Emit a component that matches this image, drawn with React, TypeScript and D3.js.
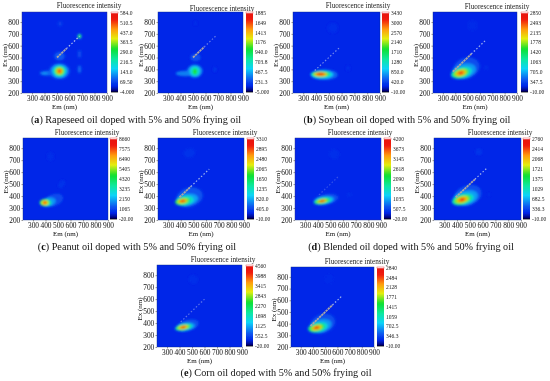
import React, { useRef, useEffect } from 'react';
import * as d3 from 'd3';

// tick values shared by all the maps
const emTicks = [300, 400, 500, 600, 700, 800, 900];
const exTicks = [200, 300, 400, 500, 600, 700, 800];

// colour bar labels, top to bottom
const rapeseed5Labels = ['584.0', '510.5', '437.0', '363.5', '290.0', '216.5', '143.0', '69.50', '-4.000'];
const rapeseed50Labels = ['1885', '1649', '1413', '1176', '940.0', '703.8', '467.5', '231.3', '-5.000'];
const soybean5Labels = ['3430', '3000', '2570', '2140', '1710', '1280', '850.0', '420.0', '-10.00'];
const soybean50Labels = ['2850', '2493', '2135', '1778', '1420', '1063', '705.0', '347.5', '-10.00'];
const peanut5Labels = ['8660', '7575', '6490', '5405', '4320', '3235', '2150', '1065', '-20.00'];
const peanut50Labels = ['3310', '2895', '2480', '2065', '1650', '1235', '820.0', '405.0', '-10.00'];
const blended5Labels = ['4200', '3673', '3145', '2618', '2090', '1563', '1035', '507.5', '-20.00'];
const blended50Labels = ['2760', '2414', '2068', '1721', '1375', '1029', '682.5', '336.3', '-10.00'];
const corn5Labels = ['4560', '3988', '3415', '2843', '2270', '1698', '1125', '552.5', '-20.00'];
const corn50Labels = ['2840', '2484', '2128', '1771', '1415', '1059', '702.5', '346.3', '-10.00'];

// contour patches: [em, ex, radius em, radius ex, tilt, intensity]
const rapeseed5Patches = [
  [450, 368, 90, 22, 0, 100], [400, 365, 26, 14, 0, 125], [520, 510, 42, 36, 0, 90],
  [680, 530, 14, 32, 0, 80], [680, 400, 14, 32, 0, 100], [525, 785, 16, 20, 0, 70],
  [680, 680, 16, 22, 0, 190], [680, 680, 10, 14, 0, 330],
  [520, 385, 82, 66, 0, 100], [520, 385, 60, 54, 0, 160], [520, 385, 47, 44, 0, 260],
  [520, 385, 36, 34, 0, 350], [520, 385, 25, 25, 0, 430], [520, 385, 15, 16, 0, 510],
];
const rapeseed50Patches = [
  [440, 365, 80, 24, 0, 380], [520, 500, 42, 32, 0, 270], [675, 400, 12, 24, 0, 200],
  [520, 790, 12, 16, 0, 180], [515, 385, 62, 55, 0, 400], [515, 385, 40, 42, 0, 620],
  [515, 382, 20, 28, 0, 950], [515, 382, 10, 14, 0, 1050],
];
const soybean5Patches = [
  [650, 410, 14, 20, 0, 330], [530, 750, 40, 45, 0, 320], [465, 355, 105, 45, 0, 600],
  [445, 356, 90, 34, 0, 1000], [440, 358, 76, 27, 0, 1500], [435, 358, 62, 22, 0, 2000],
  [435, 358, 50, 18, 0, 2500], [435, 360, 36, 13, 0, 2950], [435, 360, 20, 8, 0, 3350],
];
const soybean50Patches = [
  [650, 410, 12, 18, 0, 260], [540, 770, 38, 42, 0, 255], [490, 410, 110, 88, -20, 400],
  [470, 385, 100, 62, -15, 650], [450, 372, 88, 46, -15, 1000], [445, 370, 70, 38, -15, 1400],
  [445, 370, 56, 30, -15, 1800], [445, 370, 39, 22, -15, 2200], [445, 370, 20, 11, -15, 2700],
];
const peanut5Patches = [
  [530, 500, 24, 38, 30, 880], [440, 730, 28, 36, 0, 800], [465, 365, 80, 50, -20, 1200],
  [425, 350, 58, 37, -15, 2000], [400, 345, 48, 32, 0, 3200], [395, 345, 40, 28, 0, 4500],
  [395, 345, 29, 21, 0, 5800], [395, 345, 19, 15, 0, 7000], [395, 345, 10, 8, 0, 8400],
];
const peanut50Patches = [
  [470, 760, 48, 38, -20, 330], [470, 390, 105, 80, -15, 500], [450, 370, 88, 48, -10, 800],
  [430, 360, 74, 40, -10, 1200], [415, 358, 60, 30, -10, 1650], [415, 358, 47, 22, -10, 2100],
  [415, 358, 31, 15, -10, 2600], [415, 358, 16, 8, -10, 3200],
];
const blended5Patches = [
  [650, 410, 14, 18, 0, 400], [530, 750, 40, 40, 0, 390], [465, 372, 98, 44, -10, 600],
  [448, 363, 82, 33, -10, 1000], [440, 360, 72, 28, -10, 1500], [435, 358, 60, 22, -10, 2100],
  [435, 358, 47, 17, -10, 2600], [435, 358, 31, 11, -10, 3300], [435, 358, 17, 7, -10, 4100],
];
const blended50Patches = [
  [650, 410, 12, 18, 0, 250], [570, 770, 28, 28, 0, 280], [485, 405, 110, 85, -20, 400],
  [465, 385, 100, 60, -15, 650], [445, 372, 88, 45, -15, 1000], [440, 370, 70, 37, -15, 1400],
  [440, 370, 56, 29, -15, 1750], [440, 370, 39, 21, -15, 2150], [440, 370, 20, 11, -15, 2650],
];
const corn5Patches = [
  [510, 765, 38, 38, 0, 420], [465, 380, 92, 48, -15, 650], [448, 368, 80, 33, -10, 1000],
  [435, 366, 72, 28, -10, 1600], [430, 365, 60, 23, -10, 2300], [430, 365, 47, 18, -10, 2900],
  [430, 365, 31, 12, -10, 3600], [430, 365, 17, 7, -10, 4400],
];
const corn50Patches = [
  [530, 780, 38, 38, 0, 255], [480, 400, 105, 80, -20, 400], [460, 380, 95, 55, -15, 650],
  [440, 368, 82, 42, -12, 1000], [430, 365, 68, 33, -12, 1400], [430, 365, 53, 25, -12, 1750],
  [430, 365, 38, 18, -12, 2150], [430, 365, 20, 10, -12, 2700],
];

// scatter line along Em = Ex: [first em, last em, em where the dense part stops]
const rapeseed5Scatter = [500, 680, 575];
const rapeseed50Scatter = [500, 680, 590];
const soybean5Scatter = [390, 590, 390];
const soybean50Scatter = [380, 650, 530];
const peanut50Scatter = [390, 625, 480];
const blended5Scatter = [410, 560, 410];
const blended50Scatter = [390, 640, 540];
const corn5Scatter = [410, 600, 410];
const corn50Scatter = [380, 640, 560];

const panels = [
  { left: 22, right: 107, top: 12, bottom: 93, barX: 111, titleX: 89, titleY: 8, min: -4, max: 584, background: 46, labels: rapeseed5Labels, patches: rapeseed5Patches, scatter: rapeseed5Scatter, dots: 0.9 },
  { left: 158, right: 243, top: 12, bottom: 93, barX: 246, titleX: 222, titleY: 11, min: -5, max: 1885, background: 150, labels: rapeseed50Labels, patches: rapeseed50Patches, scatter: rapeseed50Scatter, dots: 0.5 },
  { left: 293, right: 380, top: 12, bottom: 93, barX: 382, titleX: 358, titleY: 8, min: -10, max: 3430, background: 270, labels: soybean5Labels, patches: soybean5Patches, scatter: soybean5Scatter, dots: 0.6 },
  { left: 433, right: 517, top: 12, bottom: 93, barX: 521, titleX: 497, titleY: 9, min: -10, max: 2850, background: 220, labels: soybean50Labels, patches: soybean50Patches, scatter: soybean50Scatter, dots: 0.8 },
  { left: 23, right: 108, top: 138, bottom: 220, barX: 110, titleX: 87, titleY: 135, min: -20, max: 8660, background: 700, labels: peanut5Labels, patches: peanut5Patches, scatter: null, dots: 0 },
  { left: 158, right: 244, top: 138, bottom: 220, barX: 247, titleX: 225, titleY: 135, min: -10, max: 3310, background: 270, labels: peanut50Labels, patches: peanut50Patches, scatter: peanut50Scatter, dots: 0.8 },
  { left: 295, right: 381, top: 138, bottom: 220, barX: 384, titleX: 360, titleY: 135, min: -20, max: 4200, background: 340, labels: blended5Labels, patches: blended5Patches, scatter: blended5Scatter, dots: 0.25 },
  { left: 434, right: 521, top: 138, bottom: 220, barX: 523, titleX: 500, titleY: 135, min: -10, max: 2760, background: 220, labels: blended50Labels, patches: blended50Patches, scatter: blended50Scatter, dots: 0.8 },
  { left: 157, right: 242, top: 265, bottom: 347, barX: 246, titleX: 223, titleY: 262, min: -20, max: 4560, background: 360, labels: corn5Labels, patches: corn5Patches, scatter: corn5Scatter, dots: 0.45 },
  { left: 291, right: 374, top: 267, bottom: 347, barX: 377, titleX: 357, titleY: 264, min: -10, max: 2840, background: 230, labels: corn50Labels, patches: corn50Patches, scatter: corn50Scatter, dots: 0.8 },
];

const captions = [
  { letter: 'a', text: ' Rapeseed oil doped with 5% and 50% frying oil', x: 136, y: 123 },
  { letter: 'b', text: ' Soybean oil doped with 5% and 50% frying oil', x: 407, y: 123 },
  { letter: 'c', text: ' Peanut oil doped with 5% and 50% frying oil', x: 137, y: 250 },
  { letter: 'd', text: ' Blended oil doped with 5% and 50% frying oil', x: 411, y: 250 },
  { letter: 'e', text: ' Corn oil doped with 5% and 50% frying oil', x: 276, y: 376 },
];

const colormap = d3
  .scaleLinear<string>()
  .domain([0, 0.015, 0.08, 0.16, 0.3, 0.42, 0.55, 0.68, 0.8, 0.92, 1])
  .range(['#000000', '#00006e', '#0224e8', '#0a58f0', '#08d4f8', '#08e8a0', '#10e030', '#e4ee10', '#ff9a08', '#f01c10', '#e81010'])
  .clamp(true);

const serif = '"Liberation Serif", serif';

function App() {
  const svgRef = useRef<SVGSVGElement>(null);

  useEffect(() => {
    const svg = d3.select(svgRef.current);
    svg.selectAll('*').remove();

    const defs = svg.append('defs');
    defs.append('filter').attr('id', 'soft').append('feGaussianBlur').attr('stdDeviation', 1.2);
    defs.append('filter').attr('id', 'page').append('feGaussianBlur').attr('stdDeviation', 0.3);

    const gradient = defs
      .append('linearGradient')
      .attr('id', 'bar')
      .attr('x1', 0)
      .attr('y1', 1)
      .attr('x2', 0)
      .attr('y2', 0);
    d3.range(0, 1.001, 0.02).forEach(t => {
      gradient.append('stop').attr('offset', t).attr('stop-color', colormap(t));
    });

    const root = svg.append('g').attr('filter', 'url(#page)');

    panels.forEach((p, i) => {
      const x = d3.scaleLinear().domain([220, 900]).range([p.left, p.right]);
      const y = d3.scaleLinear().domain([200, 885]).range([p.bottom, p.top]);
      const color = (v: number) => colormap((v - p.min) / (p.max - p.min));

      const g = root.append('g');
      defs
        .append('clipPath')
        .attr('id', `clip${i}`)
        .append('rect')
        .attr('x', p.left)
        .attr('y', p.top)
        .attr('width', p.right - p.left)
        .attr('height', p.bottom - p.top);

      const map = g.append('g').attr('clip-path', `url(#clip${i})`);
      map
        .append('rect')
        .attr('x', p.left)
        .attr('y', p.top)
        .attr('width', p.right - p.left)
        .attr('height', p.bottom - p.top)
        .attr('fill', color(p.background));

      map
        .append('g')
        .attr('filter', 'url(#soft)')
        .selectAll('ellipse')
        .data(p.patches)
        .join('ellipse')
        .attr('rx', d => x(d[0] + d[2]) - x(d[0]))
        .attr('ry', d => y(d[1]) - y(d[1] + d[3]))
        .attr('transform', d => `translate(${x(d[0])}, ${y(d[1])}) rotate(${d[4]})`)
        .attr('fill', d => color(d[5]));

      // Scatter line, dense grey at the start then dotted
      if (p.scatter) {
        const [first, last, solid] = p.scatter;
        if (solid > first) {
          map
            .append('line')
            .attr('x1', x(first))
            .attr('y1', y(first))
            .attr('x2', x(solid))
            .attr('y2', y(solid))
            .attr('stroke', '#a8a4a8')
            .attr('stroke-width', 1.8)
            .attr('stroke-dasharray', '2.4 0.6');
        }
        map
          .append('line')
          .attr('x1', x(solid))
          .attr('y1', y(solid))
          .attr('x2', x(last))
          .attr('y2', y(last))
          .attr('stroke', '#c4d4f0')
          .attr('stroke-opacity', p.dots)
          .attr('stroke-width', 1.2)
          .attr('stroke-dasharray', '1.5 2');
      }

      g.append('rect')
        .attr('x', p.left)
        .attr('y', p.top)
        .attr('width', p.right - p.left)
        .attr('height', p.bottom - p.top)
        .attr('fill', 'none')
        .attr('stroke', '#1a2a80')
        .attr('stroke-width', 0.4);

      const xAxis = g
        .append('g')
        .attr('transform', `translate(0, ${p.bottom})`)
        .call(d3.axisBottom(x).tickValues(emTicks).tickSize(1.5).tickPadding(1));
      const yAxis = g
        .append('g')
        .attr('transform', `translate(${p.left}, 0)`)
        .call(d3.axisLeft(y).tickValues(exTicks).tickSize(1.5).tickPadding(1.2));
      [xAxis, yAxis].forEach(axis => {
        axis.select('.domain').remove();
        axis.selectAll('line').attr('stroke', '#333').attr('stroke-width', 0.5);
        axis.selectAll('text').attr('fill', '#111').style('font-family', serif).style('font-size', '7.4px');
      });

      g.append('text')
        .attr('x', (p.left + p.right) / 2)
        .attr('y', p.bottom + 16)
        .attr('text-anchor', 'middle')
        .style('font-family', serif)
        .style('font-size', '7px')
        .attr('fill', '#111')
        .text('Em (nm)');
      g.append('text')
        .attr('transform', `translate(${p.left - 15}, ${(p.top + p.bottom) / 2 + 3}) rotate(-90)`)
        .attr('text-anchor', 'middle')
        .style('font-family', serif)
        .style('font-size', '7px')
        .attr('fill', '#111')
        .text('Ex (nm)');
      g.append('text')
        .attr('x', p.titleX)
        .attr('y', p.titleY)
        .attr('text-anchor', 'middle')
        .style('font-family', serif)
        .style('font-size', '7.2px')
        .attr('fill', '#222')
        .text('Fluorescence intensity');

      // Colour bar with its white top cap
      const barY = d3
        .scalePoint<string>()
        .domain(p.labels)
        .range([p.top + 1, p.bottom - 1]);
      g.append('rect')
        .attr('x', p.barX)
        .attr('y', p.top)
        .attr('width', 7)
        .attr('height', 1.4)
        .attr('fill', '#fff')
        .attr('stroke', '#e02020')
        .attr('stroke-width', 0.4);
      g.append('rect')
        .attr('x', p.barX)
        .attr('y', p.top + 1.4)
        .attr('width', 7)
        .attr('height', p.bottom - p.top - 2)
        .attr('fill', 'url(#bar)');
      g.selectAll('text.bar-label')
        .data(p.labels)
        .join('text')
        .attr('class', 'bar-label')
        .attr('x', p.barX + 9)
        .attr('y', d => barY(d) + 1.8)
        .style('font-family', serif)
        .style('font-size', '5.5px')
        .attr('fill', '#222')
        .text(d => d);
    });

    const cap = root
      .selectAll('text.caption')
      .data(captions)
      .join('text')
      .attr('class', 'caption')
      .attr('x', d => d.x)
      .attr('y', d => d.y)
      .attr('text-anchor', 'middle')
      .style('font-family', serif)
      .style('font-size', '10.2px')
      .attr('fill', '#111');
    cap.append('tspan').text('(');
    cap.append('tspan').attr('font-weight', 'bold').text(d => d.letter);
    cap.append('tspan').text(d => ')' + d.text);
  }, []);

  return (
    <svg
      ref={svgRef}
      width={550}
      height={381}
      style={{ position: 'absolute', left: 0, top: 0, background: '#fff' }}
    />
  );
}

export default App;
